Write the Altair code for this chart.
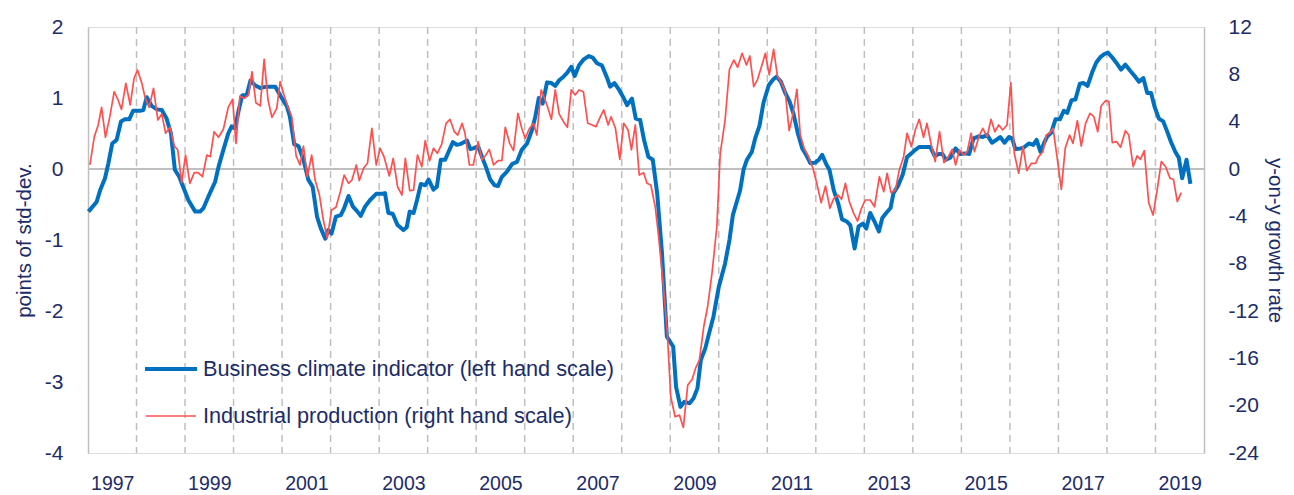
import altair as alt
import pandas as pd

# ---------------- data ----------------
blue_t = [1997.01, 1997.18, 1997.25, 1997.35, 1997.42, 1997.50, 1997.59, 1997.68, 1997.76, 1997.85, 1997.93,
          1998.07, 1998.14, 1998.21, 1998.31, 1998.42, 1998.52, 1998.62, 1998.71, 1998.79, 1998.88, 1998.96,
          1999.07, 1999.21, 1999.31, 1999.38, 1999.48, 1999.62, 1999.69, 1999.79, 1999.89, 1999.96,
          2000.03, 2000.10, 2000.18, 2000.27, 2000.35, 2000.44, 2000.55, 2000.68, 2000.86, 2000.96,
          2001.10, 2001.16, 2001.25, 2001.34, 2001.44, 2001.54, 2001.63, 2001.72, 2001.80, 2001.89, 2001.95,
          2002.02, 2002.11, 2002.21, 2002.28, 2002.37, 2002.46, 2002.54, 2002.62, 2002.71, 2002.81, 2002.94,
          2003.04, 2003.12, 2003.19, 2003.28, 2003.38, 2003.50, 2003.57, 2003.63, 2003.71, 2003.78, 2003.86, 2003.95,
          2004.02, 2004.12, 2004.19, 2004.27, 2004.36, 2004.43, 2004.52, 2004.60, 2004.67, 2004.81, 2004.88, 2004.94,
          2005.04, 2005.12, 2005.20, 2005.29, 2005.38, 2005.45, 2005.53, 2005.63, 2005.74, 2005.84, 2005.94,
          2006.05, 2006.15, 2006.22, 2006.29, 2006.37, 2006.46, 2006.55, 2006.63, 2006.71, 2006.80, 2006.87, 2006.96,
          2007.03, 2007.12, 2007.21, 2007.32, 2007.40, 2007.49, 2007.59, 2007.70, 2007.76, 2007.85, 2007.95,
          2008.04, 2008.11, 2008.21, 2008.29, 2008.38, 2008.46, 2008.55, 2008.64, 2008.73, 2008.83, 2008.93,
          2009.06, 2009.12, 2009.21, 2009.29, 2009.40, 2009.48, 2009.56, 2009.63, 2009.72, 2009.79, 2009.89,
          2010.00, 2010.13, 2010.22, 2010.29, 2010.38, 2010.44, 2010.51, 2010.58, 2010.68, 2010.75, 2010.84, 2010.92,
          2011.03, 2011.12, 2011.19, 2011.28, 2011.37, 2011.46, 2011.54, 2011.63, 2011.72, 2011.80, 2011.89, 2011.99,
          2012.06, 2012.13, 2012.22, 2012.28, 2012.37, 2012.46, 2012.54, 2012.64, 2012.71, 2012.80, 2012.88, 2012.97,
          2013.04, 2013.12, 2013.21, 2013.30, 2013.37, 2013.45, 2013.54, 2013.60, 2013.70, 2013.79, 2013.88, 2013.97,
          2014.05, 2014.13, 2014.26, 2014.36, 2014.45, 2014.53, 2014.61, 2014.68, 2014.77, 2014.88, 2014.98,
          2015.08, 2015.16, 2015.25, 2015.36, 2015.44, 2015.53, 2015.63, 2015.72, 2015.80, 2015.89, 2015.98,
          2016.05, 2016.11, 2016.22, 2016.28, 2016.39, 2016.48, 2016.55, 2016.63, 2016.70, 2016.77, 2016.85, 2016.94,
          2017.03, 2017.11, 2017.18, 2017.27, 2017.35, 2017.44, 2017.52, 2017.60, 2017.70, 2017.78, 2017.87, 2017.95,
          2018.02, 2018.11, 2018.20, 2018.29, 2018.38, 2018.47, 2018.57, 2018.66, 2018.75, 2018.83, 2018.91, 2018.98,
          2019.07, 2019.16, 2019.24, 2019.32, 2019.41, 2019.48, 2019.55, 2019.64, 2019.72]
blue_v = [-0.60, -0.46, -0.30, -0.13, 0.08, 0.36, 0.41, 0.67, 0.70, 0.70, 0.82,
          0.82, 0.83, 1.01, 0.89, 0.84, 0.83, 0.71, 0.50, -0.01, -0.11, -0.25,
          -0.44, -0.60, -0.60, -0.55, -0.39, -0.18, 0.03, 0.27, 0.50, 0.60,
          0.57, 0.81, 1.04, 1.04, 1.25, 1.18, 1.14, 1.16, 1.16, 1.04,
          0.88, 0.74, 0.35, 0.32, 0.13, -0.15, -0.25, -0.67, -0.84, -0.98, -0.86,
          -0.91, -0.67, -0.65, -0.55, -0.38, -0.53, -0.59, -0.66, -0.53, -0.44, -0.35,
          -0.35, -0.34, -0.62, -0.63, -0.79, -0.86, -0.82, -0.60, -0.62, -0.44, -0.21, -0.23,
          -0.15, -0.29, -0.25, 0.13, 0.13, 0.24, 0.38, 0.34, 0.35, 0.40, 0.28, 0.29,
          0.32, 0.17, 0.03, -0.15, -0.23, -0.24, -0.11, -0.04, 0.07, 0.10, 0.27,
          0.36, 0.55, 0.74, 1.00, 0.92, 1.22, 1.21, 1.17, 1.25, 1.30, 1.35, 1.44,
          1.31, 1.46, 1.54, 1.59, 1.57, 1.49, 1.46, 1.28, 1.16, 1.21, 1.11,
          1.00, 0.90, 0.99, 0.71, 0.69, 0.41, 0.17, 0.13, -0.34, -1.19, -2.36,
          -2.50, -3.07, -3.35, -3.28, -3.30, -3.23, -3.09, -2.69, -2.53, -2.34, -2.08,
          -1.66, -1.33, -1.00, -0.65, -0.44, -0.30, -0.01, 0.13, 0.24, 0.43, 0.61, 0.93,
          1.18, 1.26, 1.30, 1.23, 1.07, 0.95, 0.78, 0.50, 0.29, 0.20, 0.08, 0.09,
          0.13, 0.20, 0.06, -0.01, -0.30, -0.48, -0.71, -0.74, -0.79, -1.12, -0.81, -0.77,
          -0.84, -0.62, -0.74, -0.88, -0.69, -0.62, -0.55, -0.34, -0.23, -0.08, 0.17, 0.22,
          0.27, 0.31, 0.31, 0.31, 0.18, 0.21, 0.21, 0.13, 0.16, 0.29, 0.21,
          0.22, 0.21, 0.43, 0.46, 0.45, 0.48, 0.37, 0.41, 0.45, 0.37, 0.45,
          0.43, 0.28, 0.29, 0.30, 0.36, 0.34, 0.41, 0.24, 0.36, 0.46, 0.51, 0.70,
          0.70, 0.82, 0.79, 0.97, 0.98, 1.20, 1.21, 1.17, 1.37, 1.50, 1.58, 1.62,
          1.64, 1.57, 1.49, 1.40, 1.47, 1.39, 1.31, 1.23, 1.28, 1.07, 1.07, 0.88,
          0.71, 0.67, 0.53, 0.38, 0.24, 0.16, -0.13, 0.13, -0.21]

red_t = [1997.04, 1997.13, 1997.21, 1997.28, 1997.36, 1997.45, 1997.54, 1997.62, 1997.69, 1997.78, 1997.87, 1997.95,
         1998.02, 1998.11, 1998.18, 1998.26, 1998.35, 1998.44, 1998.52, 1998.60, 1998.69, 1998.78, 1998.85, 1998.93,
         1999.01, 1999.10, 1999.19, 1999.27, 1999.36, 1999.45, 1999.52, 1999.60, 1999.69, 1999.79, 1999.89, 1999.98,
         2000.05, 2000.13, 2000.22, 2000.31, 2000.38, 2000.46, 2000.55, 2000.63, 2000.71, 2000.79, 2000.89, 2000.96,
         2001.04, 2001.13, 2001.20, 2001.29, 2001.37, 2001.44, 2001.52, 2001.61, 2001.68, 2001.77, 2001.85, 2001.93,
         2002.02, 2002.11, 2002.20, 2002.28, 2002.37, 2002.44, 2002.53, 2002.59, 2002.68, 2002.76, 2002.85, 2002.94,
         2003.02, 2003.10, 2003.21, 2003.29, 2003.38, 2003.47, 2003.54, 2003.63, 2003.71, 2003.79, 2003.88, 2003.95,
         2004.04, 2004.12, 2004.20, 2004.29, 2004.38, 2004.46, 2004.55, 2004.62, 2004.71, 2004.77, 2004.86, 2004.94,
         2005.04, 2005.12, 2005.20, 2005.27, 2005.36, 2005.45, 2005.53, 2005.60, 2005.69, 2005.77, 2005.86, 2005.94,
         2006.01, 2006.09, 2006.18, 2006.25, 2006.34, 2006.41, 2006.48, 2006.55, 2006.63, 2006.71, 2006.80, 2006.88, 2006.96,
         2007.04, 2007.12, 2007.21, 2007.30, 2007.39, 2007.47, 2007.56, 2007.63, 2007.72, 2007.78, 2007.87, 2007.96,
         2008.04, 2008.13, 2008.20, 2008.28, 2008.36, 2008.45, 2008.52, 2008.60, 2008.69, 2008.76, 2008.86, 2008.94,
         2009.01, 2009.10, 2009.19, 2009.27, 2009.36, 2009.45, 2009.52, 2009.60, 2009.69, 2009.77, 2009.86, 2009.96,
         2010.03, 2010.13, 2010.22, 2010.31, 2010.39, 2010.48, 2010.57, 2010.64, 2010.72, 2010.80, 2010.89, 2010.96,
         2011.04, 2011.13, 2011.21, 2011.30, 2011.37, 2011.45, 2011.53, 2011.61, 2011.68, 2011.76, 2011.85, 2011.94,
         2012.02, 2012.11, 2012.20, 2012.29, 2012.37, 2012.46, 2012.53, 2012.61, 2012.69, 2012.78, 2012.86, 2012.94,
         2013.02, 2013.12, 2013.21, 2013.31, 2013.40, 2013.47, 2013.55, 2013.64, 2013.72, 2013.81, 2013.88, 2013.97,
         2014.05, 2014.13, 2014.22, 2014.29, 2014.38, 2014.46, 2014.55, 2014.64, 2014.73, 2014.81, 2014.88, 2014.96,
         2015.05, 2015.12, 2015.20, 2015.27, 2015.36, 2015.44, 2015.53, 2015.61, 2015.69, 2015.77, 2015.85, 2015.94,
         2016.02, 2016.09, 2016.18, 2016.27, 2016.35, 2016.44, 2016.53, 2016.59, 2016.68, 2016.75, 2016.82, 2016.89, 2016.97,
         2017.06, 2017.14, 2017.23, 2017.30, 2017.39, 2017.47, 2017.56, 2017.65, 2017.73, 2017.81, 2017.88, 2017.97,
         2018.04, 2018.11, 2018.20, 2018.28, 2018.38, 2018.45, 2018.54, 2018.62, 2018.69, 2018.77, 2018.86, 2018.95,
         2019.04, 2019.12, 2019.21, 2019.30, 2019.37, 2019.45, 2019.53]
red_v = [0.34, 2.73, 3.72, 5.21, 2.68, 4.42, 6.53, 5.83, 5.04, 7.24, 5.41, 7.67,
         8.37, 7.24, 5.98, 5.21, 6.82, 4.14, 4.65, 3.02, 3.52, 1.94, 1.61, -1.16,
         1.18, -1.21, -0.31, -0.31, -0.65, 1.18, 1.04, 3.15, 2.68, 3.36, 5.21, 5.89,
         2.17, 6.17, 5.98, 6.26, 8.22, 5.60, 5.33, 9.27, 5.83, 4.37, 5.13, 7.38,
         6.26, 5.13, 4.42, 1.10, 0.34, 1.94, -0.65, 1.18, -0.93, -2.20, -4.31, -5.86,
         -3.47, -3.24, -1.92, -0.51, -1.21, -0.93, 0.34, -0.99, 0.06, 0.48, 3.44, 0.34,
         1.75, 1.04, -0.59, 0.90, -1.50, -2.20, 0.90, -1.83, -1.78, 1.18, 0.19, 2.39,
         0.70, 1.75, 1.33, 2.11, 3.86, 4.20, 3.15, 2.87, 3.86, 3.02, 0.34, 0.34,
         2.31, 0.76, 1.18, 1.66, 0.34, 0.70, 0.70, 3.52, 2.17, 1.55, 4.71, 3.44,
         2.59, 3.36, 3.86, 2.87, 6.68, 5.98, 5.13, 4.20, 6.68, 4.65, 4.00, 3.52, 6.68,
         6.26, 6.68, 6.53, 3.86, 3.72, 3.58, 4.42, 4.99, 3.72, 4.42, 3.44, 0.82,
         3.86, 3.30, 1.61, 3.72, -0.51, -0.31, -1.21, -1.35, -3.19, -5.72, -9.95, -13.89,
         -19.25, -20.94, -20.80, -21.84, -18.26, -17.78, -16.85, -16.15, -13.33, -11.64, -8.82, -4.88,
         1.33, 4.14, 8.43, 9.21, 8.60, 9.78, 8.79, 9.55, 6.96, 7.58, 8.79, 9.78,
         7.95, 10.12, 7.80, 7.24, 6.53, 3.24, 4.65, 6.74, 2.87, 1.75, 1.04, 0.06,
         -1.21, -2.85, -1.44, -3.32, -2.48, -2.20, -2.56, -1.21, -2.76, -3.75, -4.40, -3.32,
         -2.62, -2.62, -3.19, -0.65, -1.92, -0.36, -2.00, -1.78, -0.08, 1.04, 3.02, 1.89,
         3.30, 4.20, 2.68, 3.86, 2.03, 0.62, 3.15, 0.53, 1.04, 1.66, 0.34, 1.61,
         1.18, 1.46, 3.02, 1.46, 2.73, 3.44, 2.73, 4.20, 3.15, 3.72, 3.30, 3.72,
         7.30, 1.33, -0.36, 1.89, -0.14, 0.48, 0.48, 1.04, 1.46, 2.87, 3.02, 3.44, 1.04,
         -1.72, 1.75, 2.87, 2.17, 4.08, 1.94, 3.86, 4.71, 4.42, 3.15, 5.33, 5.77,
         5.69, 2.22, 2.31, 1.83, 3.24, 2.87, 0.19, 1.10, 0.82, 1.55, -2.85, -3.89,
         -1.63, 0.62, 0.19, -0.79, -0.87, -2.76, -2.00]

year_boundaries = [1998, 1999, 2000, 2001, 2002, 2003, 2004, 2005, 2006, 2007, 2008,
                   2009, 2010, 2011, 2012, 2013, 2014, 2015, 2016, 2017, 2018, 2019]
year_label_pos = [1997.5, 1999.5, 2001.5, 2003.5, 2005.5, 2007.5,
                  2009.5, 2011.5, 2013.5, 2015.5, 2017.5, 2019.5]
left_ticks = [-4, -3, -2, -1, 0, 1, 2]
right_ticks = [-24, -20, -16, -12, -8, -4, 0, 4, 8, 12]

series_names = ["Business climate indicator (left hand scale)",
                "Industrial production (right hand scale)"]

assert len(blue_t) == len(blue_v)
assert len(red_t) == len(red_v)

# ---------------- styling ----------------
NAVY = "#1B2C68"
GRID = "#BFBFBF"
BLUE = "#0070C0"
RED = "#FF5050"
FONT = "Liberation Sans, Arial, sans-serif"

W, H = 1116, 426

blue_df = pd.DataFrame({"t": blue_t, "v": blue_v})
red_df = pd.DataFrame({"t": red_t, "v": red_v})
years_df = pd.DataFrame({"t": year_boundaries})
one = alt.Data(values=[{}])

x_enc = alt.X(
    "t:Q",
    scale=alt.Scale(domain=[1997, 2020], nice=False, zero=False),
    axis=alt.Axis(values=year_label_pos, labelExpr="floor(datum.value)", title=None,
                  domain=False, ticks=False, tickSize=0, grid=False,
                  labelFont=FONT, labelFontSize=19.5, labelColor=NAVY, labelPadding=21),
)

left_y = alt.Y(
    "v:Q",
    scale=alt.Scale(domain=[-4, 2], nice=False, zero=False),
    axis=alt.Axis(values=left_ticks, orient="left", title="points of std-dev.",
                  labelExpr="'' + datum.value",
                  grid=False, ticks=False, tickSize=0, domainColor=GRID, domainWidth=1.5,
                  labelFont=FONT, labelFontSize=21, labelColor=NAVY, labelPadding=25,
                  titleFont=FONT, titleFontSize=20.5, titleFontWeight="normal", titleColor=NAVY,
                  titleAngle=-90, titleX=-64, titleY=H / 2, titleAlign="center",
                  titleBaseline="middle"),
)

right_y = alt.Y(
    "v:Q",
    scale=alt.Scale(domain=[-24, 12], nice=False, zero=False),
    axis=alt.Axis(values=right_ticks, orient="right", title="y-on-y growth rate",
                  labelExpr="'' + datum.value",
                  grid=False, ticks=False, tickSize=0, domainColor=GRID, domainWidth=1.5,
                  labelFont=FONT, labelFontSize=21, labelColor=NAVY, labelPadding=24,
                  titleFont=FONT, titleFontSize=20.5, titleFontWeight="normal", titleColor=NAVY,
                  titleAngle=90, titleX=70, titleY=H / 2, titleAlign="center",
                  titleBaseline="middle"),
)

vgrid = alt.Chart(years_df).mark_rule(color=GRID, strokeWidth=1.5, strokeDash=[7, 5]).encode(x=x_enc)
zero = alt.Chart(one).mark_rule(color=GRID, strokeWidth=2).encode(y=alt.datum(0))
blue_line = alt.Chart(blue_df).mark_line(color=BLUE, strokeWidth=4, strokeJoin="round").encode(
    x=x_enc, y=left_y)

leg_blue_sym = alt.Chart(one).mark_rule(color=BLUE, strokeWidth=4).encode(
    x=alt.value(57), x2=alt.value(109), y=alt.value(342))
leg_red_sym = alt.Chart(one).mark_rule(color=RED, strokeWidth=1.6).encode(
    x=alt.value(58), x2=alt.value(108), y=alt.value(389))
leg_blue_txt = alt.Chart(one).mark_text(align="left", baseline="middle", font=FONT, fontSize=21.7,
                                        color=NAVY).encode(
    x=alt.value(115), y=alt.value(342), text=alt.value(series_names[0]))
leg_red_txt = alt.Chart(one).mark_text(align="left", baseline="middle", font=FONT, fontSize=21.7,
                                       color=NAVY).encode(
    x=alt.value(115), y=alt.value(389), text=alt.value(series_names[1]))

red_line = alt.Chart(red_df).mark_line(color=RED, strokeWidth=1.7, strokeJoin="round").encode(
    x=x_enc, y=right_y)

left = alt.layer(vgrid, zero, blue_line, leg_blue_sym, leg_red_sym, leg_blue_txt, leg_red_txt)

chart = (
    alt.layer(left, red_line)
    .resolve_scale(y="independent")
    .properties(width=W, height=H, autosize=alt.AutoSizeParams(type="none"),
                padding={"left": 80, "top": 19, "right": 82, "bottom": 42})
    .configure_view(stroke=None)
    .configure(background="white")
)

chart.save("out.html", embed_options={"renderer": "svg", "actions": False})
